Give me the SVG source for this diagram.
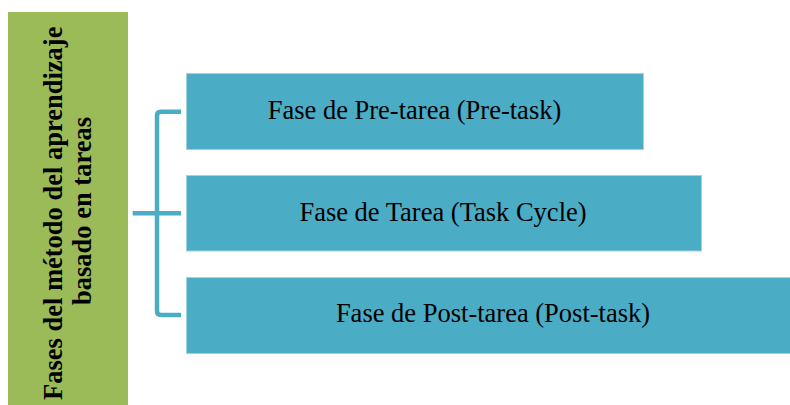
<svg xmlns="http://www.w3.org/2000/svg" width="790" height="405" viewBox="0 0 790 405">
<style>
.box{fill:#4BACC6;stroke:#9fd3e0;stroke-width:1}
.lbl{font-family:"Liberation Serif","Times New Roman",serif;font-size:26.5px;fill:#000;text-anchor:middle}
.ttl{font-family:"Liberation Serif","Times New Roman",serif;font-size:26.5px;font-weight:bold;fill:#000;text-anchor:middle}
.con{fill:none;stroke:#4BACC6;stroke-width:4.5;stroke-linejoin:round}
</style>
<rect width="790" height="405" fill="#ffffff"/>
<g id="root">
<rect x="8" y="12" width="120" height="395" fill="#9BBB59"/>
<text class="ttl" transform="translate(62,213.3) rotate(-90)">Fases del método del aprendizaje</text>
<text class="ttl" transform="translate(90.5,211) rotate(-90)">basado en tareas</text>
</g>
<g id="connectors">
<path class="con" d="M181,111.7 H161 Q157,111.7 157,115.7 V311 Q157,315 161,315 H181"/>
<path class="con" d="M132.7,213.3 H181"/>
</g>
<g id="n1">
<rect class="box" x="186.5" y="73.5" width="457" height="76"/>
<text class="lbl" x="414.5" y="119">Fase de Pre-tarea (Pre-task)</text>
</g>
<g id="n2">
<rect class="box" x="186.5" y="175.5" width="515" height="75.5"/>
<text class="lbl" x="443" y="221">Fase de Tarea (Task Cycle)</text>
</g>
<g id="n3">
<rect class="box" x="186.5" y="277.5" width="615" height="76"/>
<text class="lbl" x="493" y="321.5">Fase de Post-tarea (Post-task)</text>
</g>
</svg>
